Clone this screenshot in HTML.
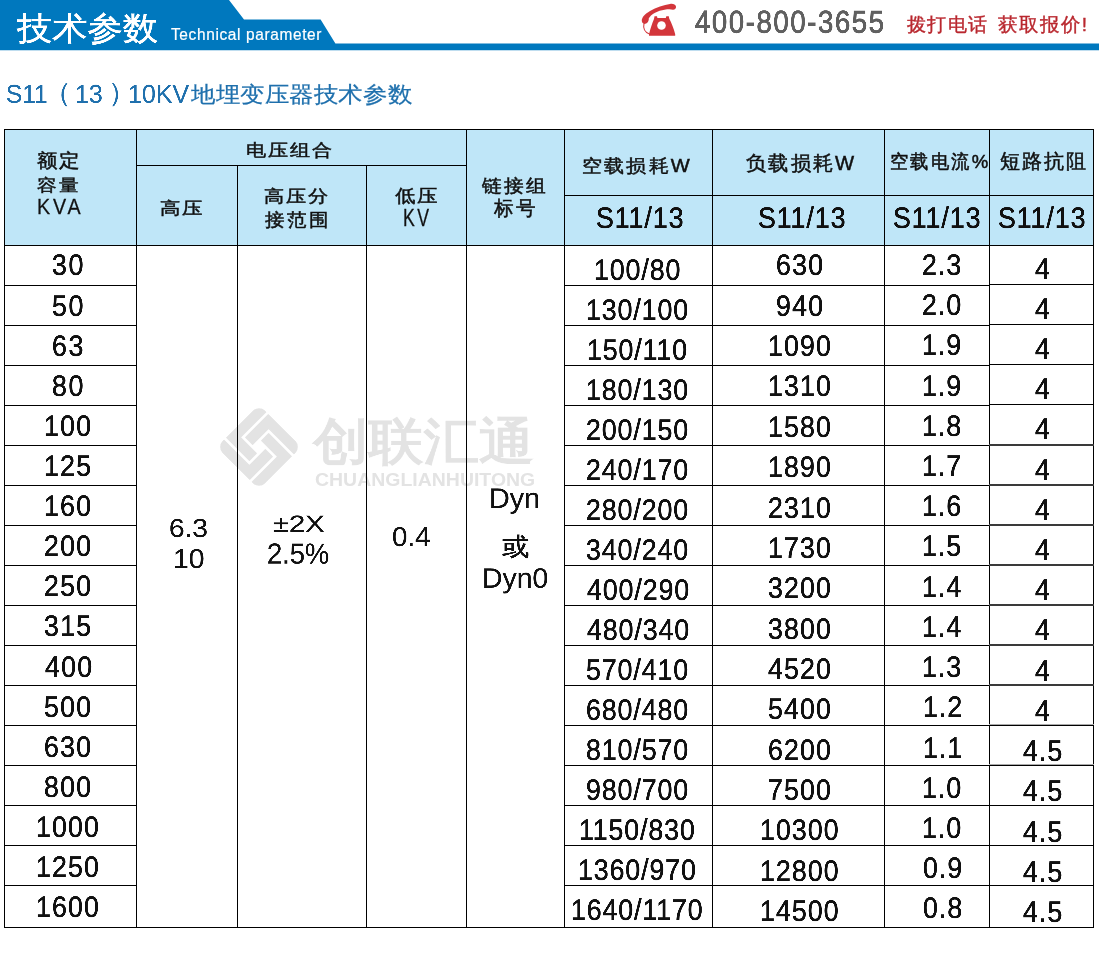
<!DOCTYPE html>
<html><head><meta charset="utf-8"><title>S11(13) 10KV</title>
<style>
html,body{margin:0;padding:0;background:#fff;width:1099px;height:974px;overflow:hidden}
body{position:relative;font-family:"Liberation Sans",sans-serif}
.a,.l{position:absolute}
.t{position:absolute;font-size:100px;line-height:1;white-space:nowrap;transform-origin:0 0;will-change:transform}
</style></head><body>
<svg class="a" style="left:0;top:0" width="1099" height="52" viewBox="0 0 1099 52">
<polygon fill="#0078be" points="0,0 229,0 244,19.5 320.6,19.5 335.4,43.5 1099,43.5 1099,50.3 0,50.3"/></svg>
<svg class="a" style="left:636px;top:0" width="44" height="40" viewBox="636 0 44 40">
<path fill="#d3363b" d="M641.8,21 C641.5,17.5 645,14 650,11 C656,7.5 664,5 670,4 C673,3.5 675.5,4.5 676,6.5 C676.3,8.3 675,9.5 673,9.8 L669.5,9.3 C663,9.3 656,11.5 651,15.5 L648.8,18.2 C649,20.5 648,23 645.5,23.8 C643.5,24.2 642,23 641.8,21 Z"/>
<path fill="#d3363b" d="M654.5,16.3 L657,16.3 L657.4,18 L665.8,18 L666.3,16.3 L668.8,16.3 L669.2,18.5 C671.5,23 673.8,28.5 675.2,34.3 L675.2,35.8 L649,35.8 L649,34.3 C650.5,28.5 652,23.5 654,19 Z"/>
<circle cx="661.5" cy="25.5" r="4.3" fill="#fff"/>
<path fill="none" stroke="#d3363b" stroke-width="1.1" d="M644,23.5 C643,28 644.5,32.5 649.5,34"/>
</svg>
<div class="a" style="left:4px;top:129px;width:1090px;height:117px;background:#bfe6f8"></div>
<div class="t" style="left:17.30px;top:12.35px;color:#fff;font-weight:400;transform:scale(0.35264,0.32323);-webkit-text-stroke:1.78px #fff;">技术参数</div>
<div class="t" style="left:170.99px;top:27.20px;color:#fff;font-weight:400;transform:scale(0.15470,0.15851);letter-spacing:4px;-webkit-text-stroke:1.28px #fff;">Technical parameter</div>
<div class="t" style="left:694.95px;top:6.21px;color:#606060;font-weight:400;transform:scale(0.27438,0.31268);letter-spacing:6px;-webkit-text-stroke:2.73px #606060;">400-800-3655</div>
<div class="t" style="left:906.50px;top:14.53px;color:#b9282f;font-weight:400;transform:scale(0.18618,0.18660);letter-spacing:10px;-webkit-text-stroke:2.15px #b9282f;">拨打电话</div>
<div class="t" style="left:997.81px;top:14.53px;color:#b9282f;font-weight:400;transform:scale(0.19061,0.18660);letter-spacing:10px;-webkit-text-stroke:2.12px #b9282f;">获取报价!</div>
<div class="t" style="left:6.32px;top:80.78px;color:#1f70ad;font-weight:400;transform:scale(0.24383,0.25493);-webkit-text-stroke:0.80px #1f70ad;">S11</div>
<div class="t" style="left:42.67px;top:79.34px;color:#1f70ad;font-weight:400;transform:scale(0.28500,0.26628);-webkit-text-stroke:0.73px #1f70ad;">（</div>
<div class="t" style="left:74.66px;top:80.78px;color:#1f70ad;font-weight:400;transform:scale(0.24900,0.25493);-webkit-text-stroke:0.79px #1f70ad;">13</div>
<div class="t" style="left:107.52px;top:79.34px;color:#1f70ad;font-weight:400;transform:scale(0.28500,0.26628);-webkit-text-stroke:0.73px #1f70ad;">）</div>
<div class="t" style="left:128.25px;top:80.78px;color:#1f70ad;font-weight:400;transform:scale(0.24979,0.25493);-webkit-text-stroke:0.79px #1f70ad;">10KV</div>
<div class="t" style="left:191.25px;top:82.50px;color:#1f70ad;font-weight:400;transform:scale(0.24566,0.22178);-webkit-text-stroke:1.07px #1f70ad;">地埋变压器技术参数</div>
<div class="t" style="left:37.20px;top:150.60px;color:#111;font-weight:400;transform:scale(0.20246,0.18788);letter-spacing:10px;-webkit-text-stroke:2.56px #111;">额定</div>
<div class="t" style="left:37.00px;top:175.80px;color:#111;font-weight:400;transform:scale(0.20147,0.17423);letter-spacing:10px;-webkit-text-stroke:2.66px #111;">容量</div>
<div class="t" style="left:37.22px;top:196.42px;color:#111;font-weight:400;transform:scale(0.19765,0.21739);letter-spacing:14px;-webkit-text-stroke:1.20px #111;">KVA</div>
<div class="t" style="left:246.10px;top:141.96px;color:#111;font-weight:400;transform:scale(0.20048,0.16939);letter-spacing:10px;-webkit-text-stroke:2.70px #111;">电压组合</div>
<div class="t" style="left:159.79px;top:199.60px;color:#111;font-weight:400;transform:scale(0.20248,0.16837);letter-spacing:10px;-webkit-text-stroke:2.70px #111;">高压</div>
<div class="t" style="left:264.21px;top:187.60px;color:#111;font-weight:400;transform:scale(0.19776,0.16735);letter-spacing:10px;-webkit-text-stroke:2.74px #111;">高压分</div>
<div class="t" style="left:265.00px;top:209.82px;color:#111;font-weight:400;transform:scale(0.19903,0.18367);letter-spacing:10px;-webkit-text-stroke:2.61px #111;">接范围</div>
<div class="t" style="left:394.90px;top:186.54px;color:#111;font-weight:400;transform:scale(0.20097,0.17634);letter-spacing:10px;-webkit-text-stroke:2.65px #111;">低压</div>
<div class="t" style="left:402.78px;top:206.15px;color:#111;font-weight:400;transform:scale(0.17698,0.24058);letter-spacing:14px;-webkit-text-stroke:1.20px #111;">KV</div>
<div class="t" style="left:482.10px;top:175.82px;color:#111;font-weight:400;transform:scale(0.20000,0.18265);letter-spacing:10px;-webkit-text-stroke:2.61px #111;">链接组</div>
<div class="t" style="left:494.00px;top:197.60px;color:#111;font-weight:400;transform:scale(0.19563,0.20000);letter-spacing:10px;-webkit-text-stroke:2.53px #111;">标号</div>
<div class="t" style="left:582.29px;top:156.82px;color:#111;font-weight:400;transform:scale(0.20152,0.18081);letter-spacing:10px;-webkit-text-stroke:2.62px #111;">空载损耗W</div>
<div class="t" style="left:745.60px;top:152.70px;color:#111;font-weight:400;transform:scale(0.20244,0.20000);letter-spacing:10px;-webkit-text-stroke:2.48px #111;">负载损耗W</div>
<div class="t" style="left:890.49px;top:151.50px;color:#111;font-weight:400;transform:scale(0.18558,0.19278);letter-spacing:10px;-webkit-text-stroke:2.64px #111;">空载电流%</div>
<div class="t" style="left:1000.00px;top:150.90px;color:#111;font-weight:400;transform:scale(0.20047,0.19896);letter-spacing:10px;-webkit-text-stroke:2.50px #111;">短路抗阻</div>
<div class="t" style="left:169.10px;top:514.83px;color:#111;font-weight:400;transform:scale(0.27923,0.25775);-webkit-text-stroke:0.74px #111;">6.3</div>
<div class="t" style="left:172.62px;top:544.66px;color:#111;font-weight:400;transform:scale(0.28317,0.26901);-webkit-text-stroke:0.72px #111;">10</div>
<div class="t" style="left:273.33px;top:512.39px;color:#111;font-weight:400;transform:scale(0.29070,0.23429);-webkit-text-stroke:0.76px #111;">±2X</div>
<div class="t" style="left:267.44px;top:538.87px;color:#111;font-weight:400;transform:scale(0.27273,0.28873);-webkit-text-stroke:0.71px #111;">2.5%</div>
<div class="t" style="left:391.89px;top:522.74px;color:#111;font-weight:400;transform:scale(0.27669,0.27042);-webkit-text-stroke:0.73px #111;">0.4</div>
<div class="t" style="left:489.11px;top:483.90px;color:#111;font-weight:400;transform:scale(0.28659,0.28111);-webkit-text-stroke:0.70px #111;">Dyn</div>
<div class="t" style="left:502.43px;top:534.25px;color:#111;font-weight:400;transform:scale(0.27368,0.24894);-webkit-text-stroke:1.91px #111;">或</div>
<div class="t" style="left:482.13px;top:564.33px;color:#111;font-weight:400;transform:scale(0.28378,0.27802);-webkit-text-stroke:0.71px #111;">Dyn0</div>
<svg class="a" style="left:209px;top:397px" width="100" height="100" viewBox="-50 -50 100 100">
<defs><clipPath id="lc"><rect x="-29.8" y="-29.8" width="59.6" height="59.6" rx="8"/></clipPath></defs>
<g transform="rotate(45)"><path clip-path="url(#lc)" fill="#e3e3e3" stroke="#e3e3e3" stroke-width="1.2" stroke-linejoin="round" d="M-16.20,-29.80 L29.80,-29.80 L29.80,-20.00 L-6.40,-20.00 L-6.40,2.60 L-16.20,2.60 Z M29.80,-16.20 L29.80,29.80 L20.00,29.80 L20.00,-6.40 L-2.60,-6.40 L-2.60,-16.20 Z M16.20,29.80 L-29.80,29.80 L-29.80,20.00 L6.40,20.00 L6.40,-2.60 L16.20,-2.60 Z M-29.80,16.20 L-29.80,-29.80 L-20.00,-29.80 L-20.00,6.40 L2.60,6.40 L2.60,16.20 Z "/></g></svg>
<div class="t" style="left:313.41px;top:416.00px;color:#e3e3e3;font-weight:700;transform:scale(0.55287,0.50396);">创联汇通</div>
<div class="t" style="left:314.82px;top:470.87px;color:#e3e3e3;font-weight:700;transform:scale(0.19465,0.18169);">CHUANGLIANHUITONG</div>
<div class="t" style="left:595.90px;top:203.23px;color:#111;transform:scale(0.2660,0.2915);letter-spacing:3.86px;-webkit-text-stroke:1.94px #111;">S11/13</div>
<div class="t" style="left:757.70px;top:202.53px;color:#111;transform:scale(0.2660,0.2915);letter-spacing:3.86px;-webkit-text-stroke:1.94px #111;">S11/13</div>
<div class="t" style="left:892.80px;top:202.53px;color:#111;transform:scale(0.2660,0.2915);letter-spacing:3.86px;-webkit-text-stroke:1.94px #111;">S11/13</div>
<div class="t" style="left:997.70px;top:202.53px;color:#111;transform:scale(0.2660,0.2915);letter-spacing:3.86px;-webkit-text-stroke:1.94px #111;">S11/13</div>
<div class="t" style="left:52.22px;top:250.43px;color:#111;transform:scale(0.2660,0.2915);letter-spacing:6.64px;-webkit-text-stroke:1.94px #111;">30</div>
<div class="t" style="left:52.22px;top:290.54px;color:#111;transform:scale(0.2660,0.2915);letter-spacing:6.64px;-webkit-text-stroke:1.94px #111;">50</div>
<div class="t" style="left:52.24px;top:330.66px;color:#111;transform:scale(0.2660,0.2915);letter-spacing:6.51px;-webkit-text-stroke:1.94px #111;">63</div>
<div class="t" style="left:52.22px;top:370.77px;color:#111;transform:scale(0.2660,0.2915);letter-spacing:6.64px;-webkit-text-stroke:1.94px #111;">80</div>
<div class="t" style="left:44.06px;top:410.88px;color:#111;transform:scale(0.2660,0.2915);letter-spacing:4.98px;-webkit-text-stroke:1.94px #111;">100</div>
<div class="t" style="left:44.06px;top:450.99px;color:#111;transform:scale(0.2660,0.2915);letter-spacing:4.98px;-webkit-text-stroke:1.94px #111;">125</div>
<div class="t" style="left:44.06px;top:491.11px;color:#111;transform:scale(0.2660,0.2915);letter-spacing:4.98px;-webkit-text-stroke:1.94px #111;">160</div>
<div class="t" style="left:44.31px;top:531.22px;color:#111;transform:scale(0.2660,0.2915);letter-spacing:5.04px;-webkit-text-stroke:1.94px #111;">200</div>
<div class="t" style="left:44.31px;top:571.33px;color:#111;transform:scale(0.2660,0.2915);letter-spacing:5.04px;-webkit-text-stroke:1.94px #111;">250</div>
<div class="t" style="left:44.44px;top:611.44px;color:#111;transform:scale(0.2660,0.2915);letter-spacing:5.07px;-webkit-text-stroke:1.94px #111;">315</div>
<div class="t" style="left:44.69px;top:651.56px;color:#111;transform:scale(0.2660,0.2915);letter-spacing:5.14px;-webkit-text-stroke:1.94px #111;">400</div>
<div class="t" style="left:44.44px;top:691.67px;color:#111;transform:scale(0.2660,0.2915);letter-spacing:5.07px;-webkit-text-stroke:1.94px #111;">500</div>
<div class="t" style="left:44.31px;top:731.78px;color:#111;transform:scale(0.2660,0.2915);letter-spacing:5.04px;-webkit-text-stroke:1.94px #111;">630</div>
<div class="t" style="left:44.44px;top:771.89px;color:#111;transform:scale(0.2660,0.2915);letter-spacing:5.07px;-webkit-text-stroke:1.94px #111;">800</div>
<div class="t" style="left:36.14px;top:812.01px;color:#111;transform:scale(0.2660,0.2915);letter-spacing:4.51px;-webkit-text-stroke:1.94px #111;">1000</div>
<div class="t" style="left:36.14px;top:852.12px;color:#111;transform:scale(0.2660,0.2915);letter-spacing:4.51px;-webkit-text-stroke:1.94px #111;">1250</div>
<div class="t" style="left:36.14px;top:892.23px;color:#111;transform:scale(0.2660,0.2915);letter-spacing:4.51px;-webkit-text-stroke:1.94px #111;">1600</div>
<div class="t" style="left:593.90px;top:254.73px;color:#111;transform:scale(0.2660,0.2915);letter-spacing:3.77px;-webkit-text-stroke:1.94px #111;">100/80</div>
<div class="t" style="left:585.97px;top:294.74px;color:#111;transform:scale(0.2660,0.2915);letter-spacing:3.73px;-webkit-text-stroke:1.94px #111;">130/100</div>
<div class="t" style="left:586.96px;top:334.74px;color:#111;transform:scale(0.2660,0.2915);letter-spacing:3.66px;-webkit-text-stroke:1.94px #111;">150/110</div>
<div class="t" style="left:585.97px;top:374.75px;color:#111;transform:scale(0.2660,0.2915);letter-spacing:3.73px;-webkit-text-stroke:1.94px #111;">180/130</div>
<div class="t" style="left:586.22px;top:414.76px;color:#111;transform:scale(0.2660,0.2915);letter-spacing:3.76px;-webkit-text-stroke:1.94px #111;">200/150</div>
<div class="t" style="left:586.22px;top:454.76px;color:#111;transform:scale(0.2660,0.2915);letter-spacing:3.76px;-webkit-text-stroke:1.94px #111;">240/170</div>
<div class="t" style="left:586.22px;top:494.77px;color:#111;transform:scale(0.2660,0.2915);letter-spacing:3.76px;-webkit-text-stroke:1.94px #111;">280/200</div>
<div class="t" style="left:586.34px;top:534.78px;color:#111;transform:scale(0.2660,0.2915);letter-spacing:3.77px;-webkit-text-stroke:1.94px #111;">340/240</div>
<div class="t" style="left:586.59px;top:574.78px;color:#111;transform:scale(0.2660,0.2915);letter-spacing:3.79px;-webkit-text-stroke:1.94px #111;">400/290</div>
<div class="t" style="left:586.59px;top:614.79px;color:#111;transform:scale(0.2660,0.2915);letter-spacing:3.79px;-webkit-text-stroke:1.94px #111;">480/340</div>
<div class="t" style="left:586.34px;top:654.79px;color:#111;transform:scale(0.2660,0.2915);letter-spacing:3.77px;-webkit-text-stroke:1.94px #111;">570/410</div>
<div class="t" style="left:586.22px;top:694.80px;color:#111;transform:scale(0.2660,0.2915);letter-spacing:3.76px;-webkit-text-stroke:1.94px #111;">680/480</div>
<div class="t" style="left:586.34px;top:734.81px;color:#111;transform:scale(0.2660,0.2915);letter-spacing:3.77px;-webkit-text-stroke:1.94px #111;">810/570</div>
<div class="t" style="left:586.34px;top:774.81px;color:#111;transform:scale(0.2660,0.2915);letter-spacing:3.77px;-webkit-text-stroke:1.94px #111;">980/700</div>
<div class="t" style="left:579.18px;top:814.82px;color:#111;transform:scale(0.2660,0.2915);letter-spacing:3.64px;-webkit-text-stroke:1.94px #111;">1150/830</div>
<div class="t" style="left:578.05px;top:854.83px;color:#111;transform:scale(0.2660,0.2915);letter-spacing:3.71px;-webkit-text-stroke:1.94px #111;">1360/970</div>
<div class="t" style="left:571.26px;top:894.83px;color:#111;transform:scale(0.2660,0.2915);letter-spacing:3.63px;-webkit-text-stroke:1.94px #111;">1640/1170</div>
<div class="t" style="left:776.01px;top:250.43px;color:#111;transform:scale(0.2660,0.2915);letter-spacing:5.04px;-webkit-text-stroke:1.94px #111;">630</div>
<div class="t" style="left:776.14px;top:290.78px;color:#111;transform:scale(0.2660,0.2915);letter-spacing:5.07px;-webkit-text-stroke:1.94px #111;">940</div>
<div class="t" style="left:767.84px;top:331.13px;color:#111;transform:scale(0.2660,0.2915);letter-spacing:4.51px;-webkit-text-stroke:1.94px #111;">1090</div>
<div class="t" style="left:767.84px;top:371.48px;color:#111;transform:scale(0.2660,0.2915);letter-spacing:4.51px;-webkit-text-stroke:1.94px #111;">1310</div>
<div class="t" style="left:767.84px;top:411.83px;color:#111;transform:scale(0.2660,0.2915);letter-spacing:4.51px;-webkit-text-stroke:1.94px #111;">1580</div>
<div class="t" style="left:767.84px;top:452.18px;color:#111;transform:scale(0.2660,0.2915);letter-spacing:4.51px;-webkit-text-stroke:1.94px #111;">1890</div>
<div class="t" style="left:768.09px;top:492.53px;color:#111;transform:scale(0.2660,0.2915);letter-spacing:4.55px;-webkit-text-stroke:1.94px #111;">2310</div>
<div class="t" style="left:767.84px;top:532.88px;color:#111;transform:scale(0.2660,0.2915);letter-spacing:4.51px;-webkit-text-stroke:1.94px #111;">1730</div>
<div class="t" style="left:768.21px;top:573.23px;color:#111;transform:scale(0.2660,0.2915);letter-spacing:4.57px;-webkit-text-stroke:1.94px #111;">3200</div>
<div class="t" style="left:768.21px;top:613.58px;color:#111;transform:scale(0.2660,0.2915);letter-spacing:4.57px;-webkit-text-stroke:1.94px #111;">3800</div>
<div class="t" style="left:768.46px;top:653.93px;color:#111;transform:scale(0.2660,0.2915);letter-spacing:4.62px;-webkit-text-stroke:1.94px #111;">4520</div>
<div class="t" style="left:768.21px;top:694.28px;color:#111;transform:scale(0.2660,0.2915);letter-spacing:4.57px;-webkit-text-stroke:1.94px #111;">5400</div>
<div class="t" style="left:768.09px;top:734.63px;color:#111;transform:scale(0.2660,0.2915);letter-spacing:4.55px;-webkit-text-stroke:1.94px #111;">6200</div>
<div class="t" style="left:768.09px;top:774.98px;color:#111;transform:scale(0.2660,0.2915);letter-spacing:4.55px;-webkit-text-stroke:1.94px #111;">7500</div>
<div class="t" style="left:759.92px;top:815.33px;color:#111;transform:scale(0.2660,0.2915);letter-spacing:4.28px;-webkit-text-stroke:1.94px #111;">10300</div>
<div class="t" style="left:759.92px;top:855.68px;color:#111;transform:scale(0.2660,0.2915);letter-spacing:4.28px;-webkit-text-stroke:1.94px #111;">12800</div>
<div class="t" style="left:759.92px;top:896.03px;color:#111;transform:scale(0.2660,0.2915);letter-spacing:4.28px;-webkit-text-stroke:1.94px #111;">14500</div>
<div class="t" style="left:922.47px;top:250.03px;color:#111;transform:scale(0.2660,0.2915);letter-spacing:4.15px;-webkit-text-stroke:1.94px #111;">2.3</div>
<div class="t" style="left:922.36px;top:290.24px;color:#111;transform:scale(0.2660,0.2915);letter-spacing:4.18px;-webkit-text-stroke:1.94px #111;">2.0</div>
<div class="t" style="left:922.28px;top:330.44px;color:#111;transform:scale(0.2660,0.2915);letter-spacing:4.09px;-webkit-text-stroke:1.94px #111;">1.9</div>
<div class="t" style="left:922.30px;top:370.65px;color:#111;transform:scale(0.2660,0.2915);letter-spacing:4.09px;-webkit-text-stroke:1.94px #111;">1.9</div>
<div class="t" style="left:922.33px;top:410.86px;color:#111;transform:scale(0.2660,0.2915);letter-spacing:4.09px;-webkit-text-stroke:1.94px #111;">1.8</div>
<div class="t" style="left:922.49px;top:451.06px;color:#111;transform:scale(0.2660,0.2915);letter-spacing:4.05px;-webkit-text-stroke:1.94px #111;">1.7</div>
<div class="t" style="left:922.38px;top:491.27px;color:#111;transform:scale(0.2660,0.2915);letter-spacing:4.09px;-webkit-text-stroke:1.94px #111;">1.6</div>
<div class="t" style="left:922.40px;top:531.48px;color:#111;transform:scale(0.2660,0.2915);letter-spacing:4.09px;-webkit-text-stroke:1.94px #111;">1.5</div>
<div class="t" style="left:922.14px;top:571.68px;color:#111;transform:scale(0.2660,0.2915);letter-spacing:4.15px;-webkit-text-stroke:1.94px #111;">1.4</div>
<div class="t" style="left:922.17px;top:611.89px;color:#111;transform:scale(0.2660,0.2915);letter-spacing:4.15px;-webkit-text-stroke:1.94px #111;">1.4</div>
<div class="t" style="left:922.48px;top:652.09px;color:#111;transform:scale(0.2660,0.2915);letter-spacing:4.09px;-webkit-text-stroke:1.94px #111;">1.3</div>
<div class="t" style="left:922.64px;top:692.30px;color:#111;transform:scale(0.2660,0.2915);letter-spacing:4.05px;-webkit-text-stroke:1.94px #111;">1.2</div>
<div class="t" style="left:922.53px;top:732.51px;color:#111;transform:scale(0.2660,0.2915);letter-spacing:4.09px;-webkit-text-stroke:1.94px #111;">1.1</div>
<div class="t" style="left:922.41px;top:772.71px;color:#111;transform:scale(0.2660,0.2915);letter-spacing:4.12px;-webkit-text-stroke:1.94px #111;">1.0</div>
<div class="t" style="left:922.43px;top:812.92px;color:#111;transform:scale(0.2660,0.2915);letter-spacing:4.12px;-webkit-text-stroke:1.94px #111;">1.0</div>
<div class="t" style="left:922.97px;top:853.13px;color:#111;transform:scale(0.2660,0.2915);letter-spacing:4.18px;-webkit-text-stroke:1.94px #111;">0.9</div>
<div class="t" style="left:923.00px;top:893.33px;color:#111;transform:scale(0.2660,0.2915);letter-spacing:4.18px;-webkit-text-stroke:1.94px #111;">0.8</div>
<div class="t" style="left:1035.08px;top:253.73px;color:#111;transform:scale(0.2660,0.2915);-webkit-text-stroke:1.94px #111;">4</div>
<div class="t" style="left:1035.11px;top:293.91px;color:#111;transform:scale(0.2660,0.2915);-webkit-text-stroke:1.94px #111;">4</div>
<div class="t" style="left:1035.13px;top:334.09px;color:#111;transform:scale(0.2660,0.2915);-webkit-text-stroke:1.94px #111;">4</div>
<div class="t" style="left:1035.16px;top:374.28px;color:#111;transform:scale(0.2660,0.2915);-webkit-text-stroke:1.94px #111;">4</div>
<div class="t" style="left:1035.18px;top:414.46px;color:#111;transform:scale(0.2660,0.2915);-webkit-text-stroke:1.94px #111;">4</div>
<div class="t" style="left:1035.21px;top:454.64px;color:#111;transform:scale(0.2660,0.2915);-webkit-text-stroke:1.94px #111;">4</div>
<div class="t" style="left:1035.23px;top:494.82px;color:#111;transform:scale(0.2660,0.2915);-webkit-text-stroke:1.94px #111;">4</div>
<div class="t" style="left:1035.26px;top:535.00px;color:#111;transform:scale(0.2660,0.2915);-webkit-text-stroke:1.94px #111;">4</div>
<div class="t" style="left:1035.28px;top:575.18px;color:#111;transform:scale(0.2660,0.2915);-webkit-text-stroke:1.94px #111;">4</div>
<div class="t" style="left:1035.31px;top:615.36px;color:#111;transform:scale(0.2660,0.2915);-webkit-text-stroke:1.94px #111;">4</div>
<div class="t" style="left:1035.33px;top:655.54px;color:#111;transform:scale(0.2660,0.2915);-webkit-text-stroke:1.94px #111;">4</div>
<div class="t" style="left:1035.36px;top:695.73px;color:#111;transform:scale(0.2660,0.2915);-webkit-text-stroke:1.94px #111;">4</div>
<div class="t" style="left:1023.35px;top:736.43px;color:#111;transform:scale(0.2660,0.2915);letter-spacing:4.24px;-webkit-text-stroke:1.94px #111;">4.5</div>
<div class="t" style="left:1023.37px;top:776.48px;color:#111;transform:scale(0.2660,0.2915);letter-spacing:4.24px;-webkit-text-stroke:1.94px #111;">4.5</div>
<div class="t" style="left:1023.40px;top:816.53px;color:#111;transform:scale(0.2660,0.2915);letter-spacing:4.24px;-webkit-text-stroke:1.94px #111;">4.5</div>
<div class="t" style="left:1023.42px;top:856.58px;color:#111;transform:scale(0.2660,0.2915);letter-spacing:4.24px;-webkit-text-stroke:1.94px #111;">4.5</div>
<div class="t" style="left:1023.45px;top:896.63px;color:#111;transform:scale(0.2660,0.2915);letter-spacing:4.24px;-webkit-text-stroke:1.94px #111;">4.5</div>
<div class="l" style="left:4px;top:129px;width:1090px;height:1px;background:#000"></div>
<div class="l" style="left:4px;top:927px;width:1090px;height:1px;background:#000"></div>
<div class="l" style="left:4px;top:245px;width:1090px;height:1px;background:#000"></div>
<div class="l" style="left:4px;top:129px;width:1px;height:799px;background:#000"></div>
<div class="l" style="left:1093px;top:129px;width:1px;height:799px;background:#000"></div>
<div class="l" style="left:136px;top:165px;width:331px;height:1px;background:#000"></div>
<div class="l" style="left:564px;top:195px;width:530px;height:1px;background:#000"></div>
<div class="l" style="left:136px;top:129px;width:1px;height:799px;background:#000"></div>
<div class="l" style="left:466px;top:129px;width:1px;height:799px;background:#000"></div>
<div class="l" style="left:564px;top:129px;width:1px;height:799px;background:#000"></div>
<div class="l" style="left:712px;top:129px;width:1px;height:799px;background:#000"></div>
<div class="l" style="left:884px;top:129px;width:1px;height:799px;background:#000"></div>
<div class="l" style="left:989px;top:129px;width:1px;height:799px;background:#000"></div>
<div class="l" style="left:237px;top:165px;width:1px;height:763px;background:#000"></div>
<div class="l" style="left:366px;top:165px;width:1px;height:763px;background:#000"></div>
<div class="l" style="left:4px;top:285px;width:133px;height:1px;background:#000"></div>
<div class="l" style="left:564px;top:285px;width:426px;height:1px;background:#000"></div>
<div class="l" style="left:989px;top:284px;width:105px;height:1px;background:#000"></div>
<div class="l" style="left:4px;top:325px;width:133px;height:1px;background:#000"></div>
<div class="l" style="left:564px;top:325px;width:426px;height:1px;background:#000"></div>
<div class="l" style="left:989px;top:324px;width:105px;height:1px;background:#000"></div>
<div class="l" style="left:4px;top:365px;width:133px;height:1px;background:#000"></div>
<div class="l" style="left:564px;top:365px;width:426px;height:1px;background:#000"></div>
<div class="l" style="left:989px;top:364px;width:105px;height:1px;background:#000"></div>
<div class="l" style="left:4px;top:405px;width:133px;height:1px;background:#000"></div>
<div class="l" style="left:564px;top:405px;width:426px;height:1px;background:#000"></div>
<div class="l" style="left:989px;top:404px;width:105px;height:1px;background:#000"></div>
<div class="l" style="left:4px;top:445px;width:133px;height:1px;background:#000"></div>
<div class="l" style="left:564px;top:445px;width:426px;height:1px;background:#000"></div>
<div class="l" style="left:989px;top:444px;width:105px;height:2px;background:#3a3a3a"></div>
<div class="l" style="left:4px;top:485px;width:133px;height:1px;background:#000"></div>
<div class="l" style="left:564px;top:485px;width:426px;height:1px;background:#000"></div>
<div class="l" style="left:989px;top:484px;width:105px;height:2px;background:#3a3a3a"></div>
<div class="l" style="left:4px;top:525px;width:133px;height:1px;background:#000"></div>
<div class="l" style="left:564px;top:525px;width:426px;height:1px;background:#000"></div>
<div class="l" style="left:989px;top:524px;width:105px;height:2px;background:#3a3a3a"></div>
<div class="l" style="left:4px;top:565px;width:133px;height:1px;background:#000"></div>
<div class="l" style="left:564px;top:565px;width:426px;height:1px;background:#000"></div>
<div class="l" style="left:989px;top:564px;width:105px;height:2px;background:#3a3a3a"></div>
<div class="l" style="left:4px;top:605px;width:133px;height:1px;background:#000"></div>
<div class="l" style="left:564px;top:605px;width:426px;height:1px;background:#000"></div>
<div class="l" style="left:989px;top:604px;width:105px;height:2px;background:#3a3a3a"></div>
<div class="l" style="left:4px;top:645px;width:133px;height:1px;background:#000"></div>
<div class="l" style="left:564px;top:645px;width:426px;height:1px;background:#000"></div>
<div class="l" style="left:989px;top:644px;width:105px;height:2px;background:#3a3a3a"></div>
<div class="l" style="left:4px;top:685px;width:133px;height:1px;background:#000"></div>
<div class="l" style="left:564px;top:685px;width:426px;height:1px;background:#000"></div>
<div class="l" style="left:989px;top:684px;width:105px;height:2px;background:#3a3a3a"></div>
<div class="l" style="left:4px;top:725px;width:133px;height:1px;background:#000"></div>
<div class="l" style="left:564px;top:725px;width:426px;height:1px;background:#000"></div>
<div class="l" style="left:989px;top:725px;width:105px;height:1px;background:#000"></div>
<div class="l" style="left:989px;top:724px;width:105px;height:1px;background:#aaa"></div>
<div class="l" style="left:4px;top:765px;width:133px;height:1px;background:#000"></div>
<div class="l" style="left:564px;top:765px;width:426px;height:1px;background:#000"></div>
<div class="l" style="left:989px;top:765px;width:105px;height:1px;background:#000"></div>
<div class="l" style="left:989px;top:764px;width:105px;height:1px;background:#aaa"></div>
<div class="l" style="left:4px;top:805px;width:133px;height:1px;background:#000"></div>
<div class="l" style="left:564px;top:805px;width:426px;height:1px;background:#000"></div>
<div class="l" style="left:989px;top:805px;width:105px;height:1px;background:#000"></div>
<div class="l" style="left:4px;top:845px;width:133px;height:1px;background:#000"></div>
<div class="l" style="left:564px;top:845px;width:426px;height:1px;background:#000"></div>
<div class="l" style="left:989px;top:845px;width:105px;height:1px;background:#000"></div>
<div class="l" style="left:4px;top:885px;width:133px;height:1px;background:#000"></div>
<div class="l" style="left:564px;top:885px;width:426px;height:1px;background:#000"></div>
<div class="l" style="left:989px;top:885px;width:105px;height:1px;background:#000"></div>
</body></html>
